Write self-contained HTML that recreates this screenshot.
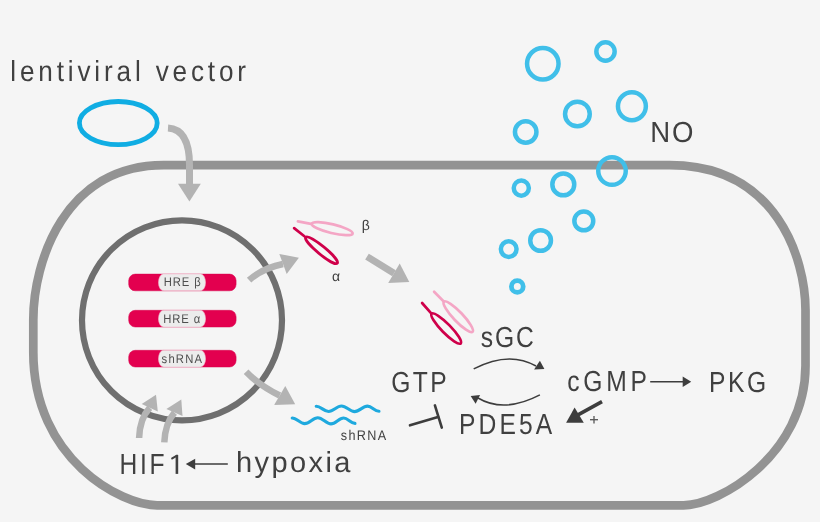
<!DOCTYPE html>
<html><head><meta charset="utf-8">
<style>
html,body{margin:0;padding:0;background:#f5f5f5;}
svg{display:block;will-change:transform;}
text{font-family:"Liberation Sans",sans-serif;fill:#404040;text-rendering:geometricPrecision;}
</style></head>
<body>
<svg width="820" height="522" viewBox="0 0 820 522">
<rect width="820" height="522" fill="#f5f5f5"/>
<!-- cell -->
<path d="M163.7,165.1 L669.6,165.1 C776.8,165.1 805.5,259.2 805.5,310.3 L805.5,365.8 C805.5,454.7 719.1,505.3 683.5,505.3 L157.1,505.3 C121.8,505.3 33.3,459.9 33.3,352.1 L33.3,319.9 C33.3,261.7 64.8,165.1 163.7,165.1 Z" fill="none" stroke="#939393" stroke-width="8.7"/>
<!-- nucleus -->
<circle cx="182" cy="320.3" r="100" fill="none" stroke="#6f6f6f" stroke-width="6.2"/>
<!-- lentiviral ellipse -->
<ellipse cx="118.3" cy="123.1" rx="38.9" ry="21.6" fill="none" stroke="#10ade3" stroke-width="4.8"/>
<!-- gray arrows -->
<g fill="#b3b3b3" stroke="none">
<path d="M168,128 C184,129 189.5,145 189.5,165 L189.5,185" fill="none" stroke="#b3b3b3" stroke-width="7"/>
<polygon points="178,183.8 200.8,183.8 189.4,201.6"/>
<path d="M249.1,280.2 C258,272 268,267 283,264" fill="none" stroke="#b3b3b3" stroke-width="6.5"/>
<polygon points="279.3,253.9 286.7,274 298.9,257.7"/>
<path d="M367,256.6 L394,273.2" fill="none" stroke="#b3b3b3" stroke-width="6.9"/>
<polygon points="399.7,263.5 388.2,282.9 409.3,281.9"/>
<path d="M246.1,371.7 C256,382 266,389 279.7,395.5" fill="none" stroke="#b3b3b3" stroke-width="6.5"/>
<polygon points="285.3,386 274.1,405 295.2,404.3"/>
<path d="M139.1,438 C139.5,425 143,415 149.75,407.7" fill="none" stroke="#b3b3b3" stroke-width="6.5"/>
<polygon points="141.7,404 157.8,411.4 156,394.8"/>
<path d="M164.3,442.4 C164.8,430 168,420 174.45,412.55" fill="none" stroke="#b3b3b3" stroke-width="6.5"/>
<polygon points="166.4,409.1 182.5,416 181.3,399.4"/>
</g>
<!-- bubbles -->
<g fill="none" stroke="#40bfe9" stroke-width="4.5">
<circle cx="542.8" cy="63.8" r="15.75"/>
<circle cx="605.5" cy="51.5" r="9.15"/>
<circle cx="631.9" cy="106.2" r="13.95"/>
<circle cx="577.4" cy="114" r="12.35"/>
<circle cx="525.7" cy="132" r="10.75"/>
<circle cx="612" cy="171" r="13.75"/>
<circle cx="521.3" cy="188.1" r="7.55"/>
<circle cx="563.3" cy="184.4" r="10.95"/>
<circle cx="583.8" cy="220.9" r="9.45"/>
<circle cx="540.6" cy="240.5" r="10.35"/>
<circle cx="508.7" cy="249.1" r="7.85"/>
<circle cx="517.3" cy="286.5" r="5.9" stroke-width="4.8"/>
</g>
<!-- DNA bars -->
<g>
<rect x="128.7" y="274.1" width="107.4" height="16.7" rx="6.5" fill="#e3004f" stroke="#d6004a" stroke-width="0.5"/>
<rect x="158.5" y="274.1" width="47" height="16.7" rx="5" ry="8.35" fill="#ececec" stroke="#f4c0d0" stroke-width="0.6"/>
<rect x="128.7" y="310.3" width="107.4" height="16.7" rx="6.5" fill="#e3004f" stroke="#d6004a" stroke-width="0.5"/>
<rect x="158.5" y="310.3" width="47" height="16.7" rx="5" ry="8.35" fill="#ececec" stroke="#f4c0d0" stroke-width="0.6"/>
<rect x="128.7" y="350.3" width="107.4" height="16.7" rx="6.5" fill="#e3004f" stroke="#d6004a" stroke-width="0.5"/>
<rect x="158.5" y="350.3" width="47" height="16.7" rx="5" ry="8.35" fill="#ececec" stroke="#f4c0d0" stroke-width="0.6"/>
</g>
<!-- ligands -->
<g fill="none" stroke-width="2.7" stroke-linecap="round">
<g stroke="#f4a6c5">
<line x1="297.9" y1="221.4" x2="311" y2="223.8"/>
<ellipse cx="332.2" cy="228.7" rx="21" ry="4.4" transform="rotate(13.5 332.2 228.7)"/>
<line x1="434.1" y1="291.8" x2="443.5" y2="301.2"/>
<ellipse cx="458.25" cy="316.75" rx="20.8" ry="4.7" transform="rotate(46.5 458.25 316.75)"/>
</g>
<g stroke="#cf004a">
<line x1="294.1" y1="228.1" x2="304.4" y2="236.2"/>
<ellipse cx="321.5" cy="250.25" rx="20.5" ry="4" transform="rotate(39.4 321.5 250.25)"/>
<line x1="422.1" y1="303" x2="430.8" y2="312.8"/>
<ellipse cx="446.2" cy="328.55" rx="20.8" ry="4.6" transform="rotate(45.6 446.2 328.55)"/>
</g>
</g>
<!-- shRNA waves -->
<g fill="none" stroke="#1ea9de" stroke-width="3.1" stroke-linecap="round">
<path d="M316.2,406.3 C320.9,406.3 323.9,411.5 328.6,411.5 C333.5,411.5 336.6,406.0 341.5,406.0 C346.5,406.0 349.6,411.6 354.6,411.6 C359.5,411.6 362.6,406.1 367.5,406.1 C371.9,406.1 374.6,411.3 379.0,411.3"/>
<path d="M292.2,418.0 C296.9,418.0 299.9,423.6 304.6,423.6 C309.6,423.6 312.8,417.7 317.8,417.7 C322.8,417.7 326.0,423.9 331.0,423.9 C335.8,423.9 338.8,418.0 343.6,418.0 C347.9,418.0 350.7,423.4 355.0,423.4"/>
</g>
<!-- dark arrows -->
<g stroke="#3d3d3d" fill="none" stroke-width="1.5">
<path d="M473.7,368.9 Q508.8,350.5 536,366"/>
<path d="M539.9,394.9 Q504,413.5 478,398"/>
<line x1="650.2" y1="381.7" x2="684" y2="381.7"/>
<line x1="227.8" y1="464.1" x2="194" y2="464.1"/>
<line x1="602" y1="401.6" x2="578" y2="414.8" stroke-width="3.6"/>
<line x1="410" y1="425.3" x2="438" y2="416.9" stroke-width="2.6" stroke-linecap="round"/>
<line x1="434.9" y1="405.4" x2="441.8" y2="427.6" stroke-width="2.6" stroke-linecap="round"/>
<line x1="590" y1="419.7" x2="598" y2="419.7" stroke-width="1.3" stroke="#555"/>
<line x1="594" y1="415.9" x2="594" y2="423.6" stroke-width="1.3" stroke="#555"/>
</g>
<g fill="#3d3d3d">
<polygon points="544.4,368.9 539.9,360.7 534.1,369.5"/>
<polygon points="470.7,396.1 480.1,394.9 475.6,403.7"/>
<polygon points="691.2,381.7 682.7,376.6 682.7,387"/>
<polygon points="185.8,464.1 195.2,458.7 195.2,469.6"/>
<polygon points="566.1,422.8 574.6,407.5 583.8,422.8"/>
</g>
<!-- digit 1 -->
<path d="M175.6,455.1 L178.2,455.1 L178.2,473.9 L175.6,473.9 Z" fill="#404040"/>
<path d="M172.2,458.4 L177,455.7" stroke="#404040" stroke-width="2.1" stroke-linecap="round" fill="none"/>
<!-- text -->
<text transform="translate(10.25 81.0) scale(0.9 1)" font-size="29" letter-spacing="4.283">lentiviral vector</text>
<text transform="translate(650.33 142.0) scale(0.95 1)" font-size="29" letter-spacing="1.764">NO</text>
<text transform="translate(480.76 346.5) scale(0.85 1)" font-size="29" letter-spacing="2.144">sGC</text>
<text transform="translate(391.14 391.5) scale(0.85 1)" font-size="29" letter-spacing="2.896">GTP</text>
<text transform="translate(458.91 434.0) scale(0.85 1)" font-size="29" letter-spacing="3.661">PDE5A</text>
<text transform="translate(567.24 391.0) scale(0.85 1)" font-size="29" letter-spacing="4.364">cGMP</text>
<text transform="translate(709.01 392.0) scale(0.85 1)" font-size="29" letter-spacing="3.059">PKG</text>
<text transform="translate(119.39 474.0) scale(0.85 1)" font-size="29" letter-spacing="3.2">HIF</text>
<text transform="translate(236.03 472.0) scale(1.0 1)" font-size="29" letter-spacing="2.416">hypoxia</text>
<text transform="translate(163.8 286.0) scale(0.9 1)" font-size="12.5" letter-spacing="0.996" style="fill:#4e4e4e">HRE β</text>
<text transform="translate(163.21 323.0) scale(0.9 1)" font-size="12.5" letter-spacing="1.038" style="fill:#4e4e4e">HRE α</text>
<text transform="translate(161.6 363.0) scale(0.9 1)" font-size="12.5" letter-spacing="1.329" style="fill:#4e4e4e">shRNA</text>
<text transform="translate(340.83 439.5) scale(0.9 1)" font-size="14" letter-spacing="1.486">shRNA</text>
<text transform="translate(361.7 229.7) scale(1.0 1)" font-size="14">β</text>
<text transform="translate(332.04 280.5) scale(1.0 1)" font-size="14">α</text>
</svg>
</body></html>
